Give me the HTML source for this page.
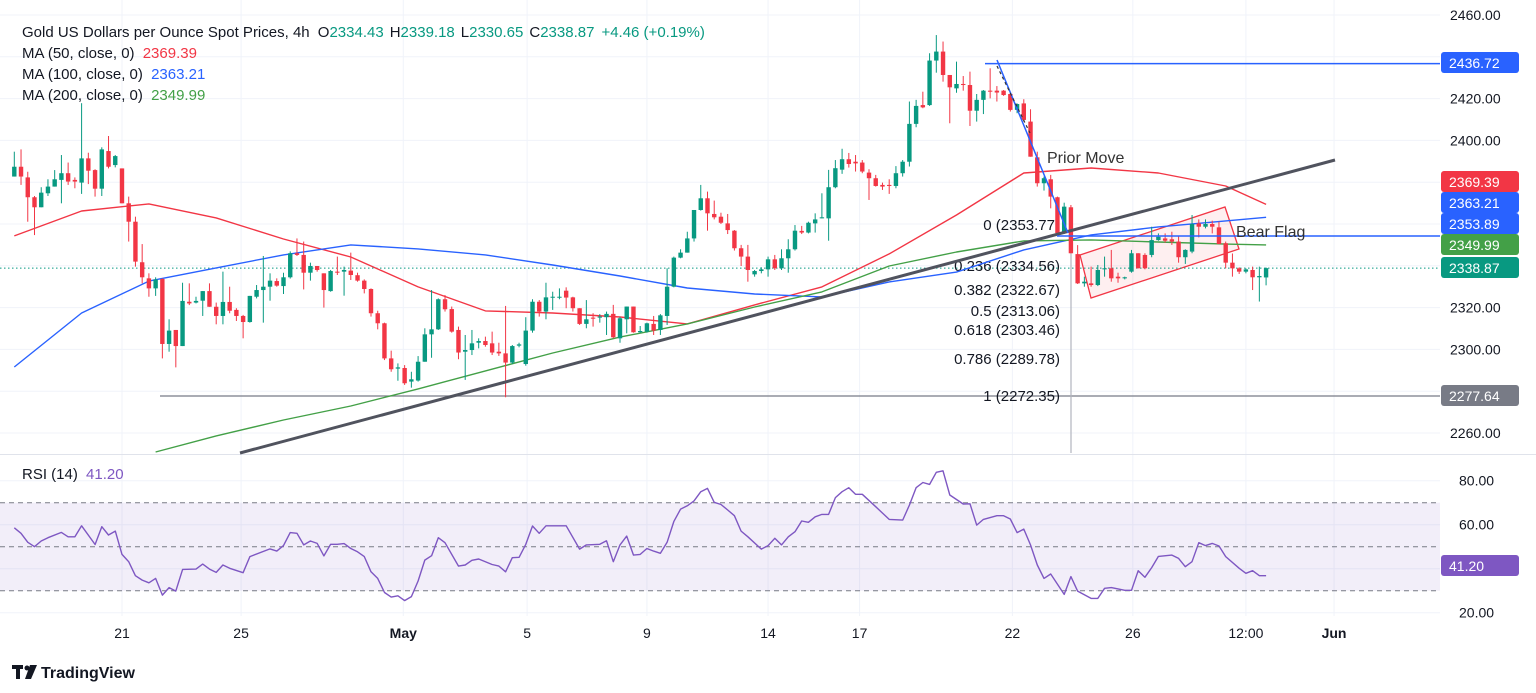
<!DOCTYPE html>
<html><head><meta charset="utf-8">
<style>
html,body{margin:0;padding:0;background:#fff;}
svg{display:block;font-family:"Liberation Sans",sans-serif;}
</style></head>
<body>
<svg id="c" width="1536" height="693" viewBox="0 0 1536 693" xmlns="http://www.w3.org/2000/svg">
<defs><clipPath id="plotclip"><rect x="0" y="0" width="1440" height="453"/></clipPath>
<clipPath id="rsiclip"><rect x="0" y="456" width="1440" height="160"/></clipPath></defs>
<g id="grid"></g>
<g id="annoBack" clip-path="url(#plotclip)"></g>
<g id="mas" clip-path="url(#plotclip)"></g>
<g id="candles" clip-path="url(#plotclip)"></g>
<g id="annoFront"></g>
<g id="rsi"></g>
<g id="axes"></g>
<g id="legend">
<text x="22" y="37" font-size="15" fill="#131722">Gold US Dollars per Ounce Spot Prices, 4h  <tspan dx="4">O</tspan><tspan fill="#089981">2334.43</tspan><tspan dx="6">H</tspan><tspan fill="#089981">2339.18</tspan><tspan dx="6">L</tspan><tspan fill="#089981">2330.65</tspan><tspan dx="6">C</tspan><tspan fill="#089981">2338.87</tspan><tspan dx="7" fill="#089981">+4.46 (+0.19%)</tspan></text>
<text x="22" y="58" font-size="15" fill="#131722">MA (50, close, 0) <tspan dx="4" fill="#f23645">2369.39</tspan></text>
<text x="22" y="79" font-size="15" fill="#131722">MA (100, close, 0) <tspan dx="4" fill="#2962ff">2363.21</tspan></text>
<text x="22" y="100" font-size="15" fill="#131722">MA (200, close, 0) <tspan dx="4" fill="#43a047">2349.99</tspan></text>
<text x="22" y="479" font-size="15" fill="#131722">RSI (14) <tspan dx="4" fill="#7e57c2">41.20</tspan></text>
</g>
<g>
<rect x="12" y="665" width="11" height="4" fill="#131722"/><rect x="16" y="665" width="4" height="14" fill="#131722"/>
<circle cx="27" cy="668" r="2.5" fill="#131722"/><polygon points="30,665 37,665 31,679 25,679" fill="#131722"/>
<text x="41" y="678" font-size="16" font-weight="bold" fill="#131722">TradingView</text>
</g>
</svg>
<script>
const opens=[2382.7,2387.4,2382.3,2372.8,2368.0,2374.7,2377.9,2381.1,2384.3,2381.1,2379.8,2391.4,2385.8,2376.9,2394.9,2388.2,2386.6,2369.9,2361.1,2341.7,2334.0,2329.2,2333.7,2302.6,2309.3,2301.6,2322.8,2322.4,2323.3,2327.9,2320.4,2316.0,2322.7,2318.9,2316.0,2313.1,2325.2,2328.4,2330.0,2332.7,2330.3,2334.5,2346.0,2345.2,2336.7,2339.9,2336.4,2327.9,2337.2,2337.2,2337.7,2335.5,2332.9,2328.9,2317.3,2312.5,2295.7,2290.8,2291.1,2284.6,2285.1,2294.1,2307.2,2309.6,2324.0,2319.3,2309.3,2298.9,2299.7,2303.2,2304.0,2302.9,2298.9,2298.1,2293.7,2301.8,2293.0,2309.0,2322.8,2318.1,2324.8,2324.8,2328.1,2324.9,2319.7,2312.2,2315.2,2315.2,2315.4,2317.0,2305.3,2314.4,2320.5,2308.2,2308.5,2312.2,2309.3,2316.0,2330.0,2343.9,2346.3,2353.1,2366.7,2372.3,2364.8,2363.5,2360.3,2356.8,2348.4,2344.4,2335.9,2337.5,2338.3,2343.1,2338.8,2343.6,2347.9,2356.7,2355.9,2360.3,2362.7,2362.7,2377.6,2386,2391,2389.8,2389.4,2384.6,2381.9,2378.7,2378.7,2378.2,2384.3,2389.8,2407.9,2416.9,2416.9,2438.2,2442.5,2431.3,2424.9,2427.0,2426.5,2414.2,2419.4,2423.8,2423.8,2423.8,2422.2,2414.6,2417.7,2409.0,2391.9,2379.5,2381.4,2372.8,2355.6,2368.0,2345.6,2331.6,2331.6,2330.8,2338.3,2338.8,2334.8,2334.0,2337.2,2346.0,2345.2,2345.2,2352.3,2353.1,2352.7,2351.6,2344.1,2346.8,2360.3,2358.7,2360.0,2358.4,2350.8,2341.5,2338.8,2337.2,2338.0,2334.5,2334.43];
const closes=[2387.4,2382.7,2372.8,2368.0,2375.0,2377.9,2381.4,2384.3,2380.3,2380.3,2391.4,2385.5,2376.9,2395.7,2387.4,2392.5,2369.9,2361.1,2342.0,2334.5,2329.2,2333.5,2302.6,2309.0,2301.6,2323.2,2322.0,2323.2,2327.9,2320.4,2316.0,2322.7,2318.5,2316.0,2313.1,2325.6,2328.4,2330.0,2332.9,2330.5,2334.5,2346.0,2345.2,2336.7,2339.9,2338.0,2328.4,2337.5,2336.7,2338.0,2335.6,2332.9,2328.9,2317.3,2312.5,2295.7,2290.5,2291.4,2283.8,2285.7,2294.1,2307.2,2309.6,2324.0,2319.2,2308.5,2298.5,2299.7,2302.9,2304.0,2302.1,2298.5,2298.1,2293.7,2301.6,2302.4,2309.0,2322.8,2318.1,2324.9,2325.2,2325.2,2324.8,2319.7,2312.2,2314.4,2314.7,2315.7,2317.0,2305.8,2314.9,2320.5,2308.2,2308.8,2312.5,2309.0,2316.3,2330.0,2343.9,2346.3,2353.1,2366.7,2372.3,2365.1,2363.2,2360.6,2357.1,2348.4,2344.4,2338.0,2337.5,2338.3,2343.1,2338.8,2343.6,2347.9,2356.8,2355.9,2360.6,2362.2,2363.2,2377.6,2386.7,2391,2388.7,2389.0,2385.1,2381.9,2378.2,2377.9,2378.2,2384.3,2389.8,2407.9,2416.5,2415.8,2438.2,2442.5,2431.3,2425.4,2427.0,2426.5,2414.2,2419.4,2423.8,2423.3,2422.9,2421.7,2414.6,2417.4,2409.8,2392.2,2379.5,2381.9,2373.1,2355.6,2368.3,2346.0,2331.6,2332.4,2330.8,2338.0,2338.8,2334.0,2334.0,2334.5,2346.0,2338.8,2338.8,2352.3,2353.9,2352.0,2351.6,2344.1,2347.6,2360.0,2358.7,2360.0,2358.7,2350.4,2341.5,2338.8,2337.2,2338.3,2334.5,2335.1,2338.87];
const highs=[2394.6,2395.7,2385.0,2373.4,2377.6,2381.4,2385.8,2393.0,2389.4,2382.3,2417.8,2394.1,2386.2,2396.7,2402.1,2393.0,2386.6,2373.1,2363.5,2350.4,2336.4,2334.5,2334.0,2314.4,2309.3,2331.9,2331.6,2325.2,2327.9,2331.6,2322.4,2337.2,2330.0,2319.7,2316.5,2325.6,2330.8,2344.7,2336.4,2334.0,2336.7,2346.9,2353.1,2351.6,2341.5,2339.9,2336.4,2338.0,2344.4,2339.6,2346.3,2336.7,2333.5,2329.2,2318.5,2312.8,2299.4,2293.3,2292.5,2289.3,2296.8,2310.1,2328.4,2324.4,2326.0,2320.5,2310.9,2306.9,2309.3,2305.3,2306.1,2308.5,2303.2,2320.8,2302.1,2303.2,2315.4,2324.0,2323.6,2331.9,2327.6,2329.2,2329.7,2325.2,2319.7,2323.6,2317.3,2316.9,2318.1,2321.3,2315.7,2320.5,2320.5,2311.2,2312.8,2316.0,2316.9,2338.8,2344.4,2347.9,2356.3,2366.7,2378.7,2375.5,2371.2,2365.4,2364.8,2357.1,2350.0,2350.0,2338.0,2339.3,2344.4,2345.2,2347.9,2352.7,2359.5,2359.1,2361.1,2365.1,2374.7,2385.9,2390.6,2396,2394,2393.0,2390.6,2386.2,2383.5,2379.8,2381.4,2387.7,2390.6,2418.6,2419.4,2423.3,2441.7,2450.4,2447.3,2431.3,2437.7,2430.8,2432.9,2422.2,2424.1,2434.5,2426.0,2424.1,2422.9,2417.7,2419.7,2414.9,2394.6,2382.7,2383.5,2373.1,2370.2,2369.1,2349.9,2334.8,2339.6,2340.4,2344.4,2347.6,2336.7,2334.8,2347.6,2346.0,2346.0,2358.7,2355.5,2355.5,2356.3,2354.0,2347.9,2364.3,2362.2,2362.2,2361.6,2361.1,2351.6,2345.9,2339.3,2338.8,2339.6,2339.6,2339.18];
const lows=[2382.7,2378.7,2361.1,2354.7,2368.0,2373.4,2377.9,2369.9,2378.7,2377.1,2374.4,2379.1,2373.1,2373.4,2386.6,2387.1,2369.9,2351.6,2339.6,2331.6,2325.2,2325.6,2295.7,2298.9,2291.4,2301.6,2321.2,2322.0,2316.0,2320.4,2312.0,2312.0,2317.3,2313.6,2305.3,2312.8,2324.4,2312.8,2323.3,2330.0,2326.5,2333.9,2344.7,2328.7,2332.9,2337.2,2320.0,2327.6,2335.6,2325.7,2333.2,2332.4,2326.8,2315.7,2309.6,2294.9,2289.3,2285.0,2283.0,2281.7,2284.6,2294.1,2296.0,2309.3,2318.1,2308.0,2295.3,2285.4,2297.3,2300.5,2301.3,2297.3,2296.9,2277.1,2293.0,2301.0,2292.2,2308.0,2315.7,2314.4,2318.9,2324.0,2319.7,2318.1,2311.7,2310.1,2310.9,2312.8,2306.9,2305.3,2303.2,2307.7,2308.0,2308.0,2308.0,2306.9,2306.9,2311.7,2329.7,2343.6,2346.3,2351.6,2366.4,2356.8,2362.2,2360.0,2355.2,2347.3,2339.9,2332.4,2334.8,2336.4,2334.8,2338.0,2338.0,2336.7,2347.3,2355.2,2355.5,2355.9,2362.7,2352.0,2377.1,2384,2387,2385.1,2384.3,2371.5,2377.9,2376.3,2374.4,2377.1,2382.7,2387.5,2406.3,2415.4,2416.5,2432.4,2428.1,2408.2,2422.8,2423.8,2406.9,2409.0,2412.6,2420.1,2418.6,2421.3,2413.8,2413.0,2409.0,2392.2,2377.9,2376.0,2367.5,2355.6,2355.2,2346.0,2331.3,2330.0,2330.0,2330.3,2334.8,2332.4,2331.9,2333.5,2336.7,2338.8,2338.3,2344.1,2352.0,2351.1,2350.0,2341.5,2340.9,2346.0,2353.6,2357.9,2355.5,2350.4,2338.8,2334.8,2336.1,2336.4,2328.4,2322.9,2330.65];
const maBars=[0,10,20,30,40,50,60,70,80,90,100,110,120,130,140,150,160,170,180,186];
const ma50=[2354.3,2366.2,2369.6,2362.9,2352.8,2344.2,2329.9,2318.4,2317.4,2315.5,2312.2,2321.3,2329.9,2345.7,2364.3,2384.4,2386.8,2384.4,2378.2,2369.39];
const ma100=[2291.6,2317.4,2332.7,2339.0,2345.2,2350.0,2348.1,2345.2,2340.4,2335.1,2329.4,2326.5,2325.1,2332.3,2337.0,2347.6,2354.8,2358.6,2361.5,2363.21];
const ma200Bars=[21,30,40,50,60,70,80,90,100,110,120,130,140,150,160,170,180,186];
const ma200=[2250.9,2258.6,2266.2,2272.9,2281.1,2289.7,2298.3,2305.9,2312.2,2320.3,2327.5,2339.9,2346.6,2351.9,2352.4,2351.4,2350.4,2349.99];
const rsiBars=[0,1,2,3,4,5,7,8,9,10,12,13,14,15,16,17,18,19,20,21,22,23,24,25,27,28,29,30,31,32,34,35,38,39,40,41,42,43,44,45,46,47,48,49,50,51,52,53,54,55,56,57,58,59,60,61,62,63,64,66,67,68,69,71,72,73,74,75,76,77,78,79,82,84,85,87,88,89,90,91,92,93,94,95,96,97,98,99,100,101,102,103,104,105,106,107,108,109,111,112,113,114,115,116,117,118,119,120,121,122,123,124,125,126,128,130,132,133,134,135,136,137,138,139,141,142,143,144,146,147,148,149,150,151,152,153,154,155,156,157,158,160,161,162,163,165,166,167,168,169,170,172,173,174,175,176,177,178,179,180,182,183,184,185,186];
const rsiVals=[58.6,56.1,52,50,52.6,54.1,56.5,54.5,54.5,59.5,51,59.1,55.3,57.1,46.5,43.2,36.8,34.8,33.6,35.6,28,31.4,29.8,39.7,39.8,42.1,39.8,38.3,41.7,40.2,38.2,45.5,49,48,50.5,56.4,56.1,50.8,52.6,51.5,45.8,51.1,51.1,51.4,49.2,47.7,45.5,38.6,35.6,29.2,27.1,27.7,25.5,27.3,34.4,43.9,45.9,54.1,51.8,41.2,41.7,43.8,44.4,41.9,41.2,38.6,45,45.2,51.1,59.4,56.1,59.5,59.5,48.9,50.8,51.1,52.7,43.2,50.8,54.8,46.2,46.5,49.2,48,47,52,61.4,67.1,68.6,70.8,75,76.5,70.2,69.2,66.7,64.1,57.1,54.5,48.9,50.5,53.8,50.8,54.5,56.8,61.7,61.1,63.6,64.7,64.7,72.3,75,76.8,73.8,73.8,68.2,62.4,62.1,68.9,76.8,79.2,78.3,83.8,84.5,73.5,69.4,69.5,59.8,62.4,64.1,64.1,62.6,56.4,58,50.8,41.7,35.6,37.6,32.9,28.3,36.4,29.8,26.5,26.5,31.1,31.4,30.2,30.2,39.1,36.1,40.5,45.6,46.2,44.7,40.9,43.2,51.8,50.5,51.5,50.3,45.5,40.2,37.9,39.1,36.8,36.8,41.2];
const priceTicks=[2460,2440,2420,2400,2380,2360,2340,2320,2300,2280,2260];
const priceTickLabels=["2460.00","","2420.00","2400.00","","","","2320.00","2300.00","","2260.00"];
const rsiTicks=[80,60,40,20];
const rsiTickLabels=["80.00","60.00","","20.00"];
const timeLabels=["21","25","May","5","9","14","17","22","26","12:00","Jun"];
const timeLabelBars=[16,33.7,57.8,76.2,94,112,125.6,148.3,166.2,183,196.1];
const fibLevels=[0,0.236,0.382,0.5,0.618,0.786,1];
const fibPrices=[2353.77,2334.56,2322.67,2313.06,2303.46,2289.78,2272.35];

const NS="http://www.w3.org/2000/svg";
const X0=14.3, DX=6.73;
function xB(i){return X0+DX*i;}
function yP(p){return 15+(2460-p)*2.09;}
function yR(v){return 502.7+(70-v)*2.2;}
function mk(tag,attrs,parent){const e=document.createElementNS(NS,tag);for(const k in attrs)e.setAttribute(k,attrs[k]);parent.appendChild(e);return e;}
const G=id=>document.getElementById(id);

// grid
const grid=G('grid');
priceTicks.forEach((p,i)=>{const l=mk('line',{x1:0,x2:1440,y1:yP(p),y2:yP(p),stroke:'#f0f3fa','stroke-width':1},grid);

});
rsiTicks.forEach(v=>{const l=mk('line',{x1:0,x2:1440,y1:yR(v),y2:yR(v),stroke:'#f0f3fa','stroke-width':1},grid);

});
timeLabelBars.forEach(b=>{const l=mk('line',{x1:xB(b),x2:xB(b),y1:0,y2:616,stroke:'#f0f3fa','stroke-width':1},grid);

});
const sep=mk('line',{x1:0,x2:1536,y1:454.5,y2:454.5,stroke:'#e0e3eb','stroke-width':1},grid);



// annotations behind candles
const ab=G('annoBack');
const flag=mk('polygon',{points:'1080,255 1225,207 1239,249 1091,298',fill:'rgba(242,54,69,0.08)',stroke:'#f23645','stroke-width':1.3},ab);


const hl=mk('line',{x1:160,x2:1440,y1:396,y2:396,stroke:'#787b86','stroke-width':1.2},ab);


const fv=mk('line',{x1:1071,x2:1071,y1:232,y2:453,stroke:'#b2b5be','stroke-width':1.2},ab);


const dot=mk('line',{x1:0,x2:1440,y1:yP(2338.87),y2:yP(2338.87),stroke:'#089981','stroke-width':1,'stroke-dasharray':'1.5,2.5'},ab);


const fy=[225,266,290,311,330,359,396];
fibLevels.forEach((f,i)=>{const t=mk('text',{x:i===0?1055:1060,y:fy[i]+5,'text-anchor':'end','font-size':15,fill:'#131722'},ab);
t.textContent=f+' ('+fibPrices[i].toFixed(2)+(i===0?'':')');

});

// moving averages
const mas=G('mas');
function maLine(bars,vals,color,name){const d=bars.map((b,i)=>(i?'L':'M')+xB(b).toFixed(1)+','+yP(vals[i]).toFixed(1)).join('');
const p=mk('path',{d:d,fill:'none',stroke:color,'stroke-width':1.4,'stroke-linejoin':'round'},mas);

}
maLine(maBars,ma50,'#f23645','ma50-line');
maLine(maBars,ma100,'#2962ff','ma100-line');
maLine(ma200Bars,ma200,'#43a047','ma200-line');

// candles
const cg=G('candles');
opens.forEach((o,i)=>{const c=closes[i];const col=c>=o?'#089981':'#f23645';const x=xB(i);
const g=mk('g',{},cg);


mk('line',{x1:x,x2:x,y1:yP(highs[i]),y2:yP(lows[i]),stroke:col,'stroke-width':1},g);
const top=yP(Math.max(o,c)),bot=yP(Math.min(o,c));
mk('rect',{x:x-2.2,y:top,width:4.4,height:Math.max(1,bot-top),fill:col},g);});

// front annotations
const af=G('annoFront');
const tl=mk('line',{x1:240,y1:453,x2:1335,y2:160,stroke:'#50535e','stroke-width':3},af);


const hb=mk('line',{x1:985,x2:1440,y1:yP(2436.72),y2:yP(2436.72),stroke:'#2962ff','stroke-width':1.5},af);


const hb2=mk('line',{x1:1057,x2:1440,y1:236,y2:236,stroke:'#2962ff','stroke-width':1.5},af);


const pm=mk('line',{x1:997,y1:60,x2:1068,y2:233,stroke:'#2962ff','stroke-width':1.5},af);


const pmd=mk('line',{x1:997,y1:66,x2:1030,y2:133,stroke:'#333','stroke-width':1.2,'stroke-dasharray':'3,3'},af);


const pmt=mk('text',{x:1047,y:163,'font-size':16,fill:'#333'},af);
pmt.textContent='Prior Move';


const bft=mk('text',{x:1236,y:237,'font-size':16,fill:'#333'},af);
bft.textContent='Bear Flag';



// RSI
const rg=G('rsi');
const band=mk('rect',{x:0,y:yR(70),width:1440,height:yR(30)-yR(70),fill:'rgba(126,87,194,0.1)'},rg);


[70,50,30].forEach(v=>{const l=mk('line',{x1:0,x2:1440,y1:yR(v),y2:yR(v),stroke:'#787b86','stroke-width':1,'stroke-dasharray':'5,4'},rg);

});
const rd=rsiBars.map((b,i)=>(i?'L':'M')+xB(b).toFixed(1)+','+yR(rsiVals[i]).toFixed(1)).join('');
const rl=mk('path',{d:rd,fill:'none',stroke:'#7e57c2','stroke-width':1.4,'stroke-linejoin':'round','clip-path':'url(#rsiclip)'},rg);



// axes
const ax=G('axes');
priceTicks.forEach((p,i)=>{if(!priceTickLabels[i])return;const t=mk('text',{x:1450,y:yP(p)+5,'font-size':14,fill:'#131722'},ax);
t.textContent=priceTickLabels[i];

});
rsiTicks.forEach((v,i)=>{if(!rsiTickLabels[i])return;const t=mk('text',{x:1459,y:yR(v)+5,'font-size':14,fill:'#131722'},ax);
t.textContent=rsiTickLabels[i];

});
timeLabels.forEach((s,i)=>{const t=mk('text',{x:xB(timeLabelBars[i]),y:638,'text-anchor':'middle','font-size':14,fill:'#131722','font-weight':s==='May'||s==='Jun'?'bold':'normal'},ax);
t.textContent=s;

});
const tags=[[2436.72,'#2962ff','2436.72',63],[2277.64,'#787b86','2277.64',396],[2369.39,'#f23645','2369.39',182],[2363.21,'#2962ff','2363.21',203],[2353.89,'#2962ff','2353.89',224],[2349.99,'#43a047','2349.99',245],[2338.87,'#089981','2338.87',268],[41.2,'#7e57c2','41.20',566]];
tags.forEach(t=>{const g=mk('g',{},ax);


mk('rect',{x:1441,y:t[3]-11,width:78,height:21,rx:3,fill:t[1]},g);
const tx=mk('text',{x:1449,y:t[3]+5,'font-size':14,fill:'#fff'},g);tx.textContent=t[2];});
</script>
</body></html>
